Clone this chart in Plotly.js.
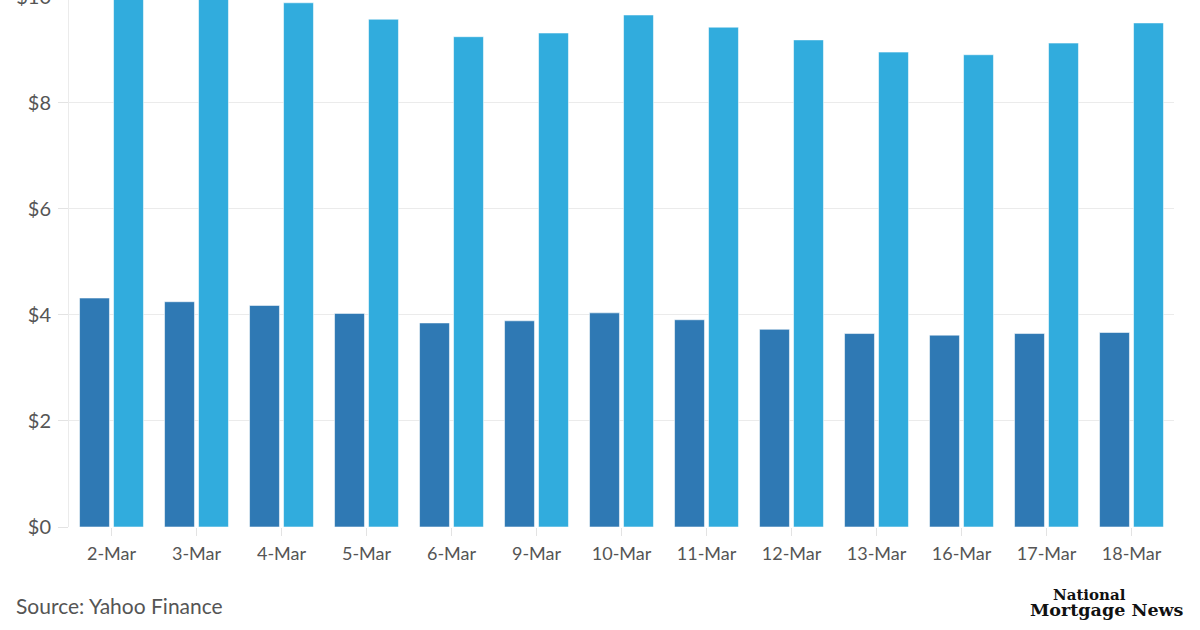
<!DOCTYPE html>
<html>
<head>
<meta charset="utf-8">
<script src="https://cdn.plot.ly/plotly-3.0.1.min.js"></script>
<style>
html,body{margin:0;padding:0;width:1200px;height:630px;overflow:hidden;background:#fff;}
#chart{position:absolute;left:0;top:-40px;width:1200px;height:670px;}
</style>
</head>
<body>
<div id="chart"></div>
<script>
const categories = ["2-Mar","3-Mar","4-Mar","5-Mar","6-Mar","9-Mar","10-Mar","11-Mar","12-Mar","13-Mar","16-Mar","17-Mar","18-Mar"];
const seriesDark = [4.32,4.25,4.18,4.03,3.85,3.89,4.04,3.91,3.73,3.65,3.62,3.65,3.67];
const seriesLight = [10.2,10.15,9.89,9.58,9.25,9.32,9.66,9.43,9.19,8.96,8.91,9.13,9.51];
const yTicks = [0,2,4,6,8,10];
const yTickLabels = ["$0","$2","$4","$6","$8","$10"];

const barLine = {color:'rgba(255,255,255,0.55)', width:1};
const traces = [
  {type:'bar', x:categories, y:seriesDark, marker:{color:'#2f79b4', line:barLine}, hoverinfo:'none'},
  {type:'bar', x:categories, y:seriesLight, marker:{color:'#31acdd', line:barLine}, hoverinfo:'none'}
];

const font = 'Lato, "Open Sans", sans-serif';
const layout = {
  width:1200, height:670,
  margin:{l:69, r:26, t:20, b:103},
  paper_bgcolor:'#fff', plot_bgcolor:'#fff',
  showlegend:false,
  barmode:'group', bargap:0.2, bargroupgap:0.12,
  font:{family:font, color:'#555', size:18},
  xaxis:{
    type:'category', showgrid:false, zeroline:false, showline:false,
    ticks:'outside', ticklen:8, tickcolor:'#e3e3e3', tickwidth:1,
    tickfont:{family:font, size:18, color:'#555'}, ticklabelstandoff:2
  },
  yaxis:{
    range:[0, 10.32], tickmode:'array', tickvals:yTicks, ticktext:yTickLabels,
    showgrid:true, gridcolor:'#ebebeb', gridwidth:1, zeroline:false,
    showline:true, linecolor:'#ebebeb', linewidth:1,
    ticks:'outside', ticklen:10, tickcolor:'#e3e3e3',
    tickfont:{family:font, size:20, color:'#555'}, ticklabelstandoff:3
  },
  annotations:[
    {xref:'paper', yref:'paper', x:(14-69)/1105, y:-(603+40-567)/530, xanchor:'left', yanchor:'middle',
     text:'Source: Yahoo Finance', showarrow:false, font:{family:font, size:21, color:'#555'}},
    {xref:'paper', yref:'paper', x:(1089-69)/1105, y:-(593+40-567)/530, xanchor:'center', yanchor:'middle',
     text:'<b>National</b>', showarrow:false, font:{family:'"DejaVu Serif", serif', size:15, color:'#111'}},
    {xref:'paper', yref:'paper', x:(1107-69)/1105, y:-(607+40-567)/530, xanchor:'center', yanchor:'middle',
     text:'<b>Mortgage News</b>', showarrow:false, font:{family:'"DejaVu Serif", serif', size:17.5, color:'#111'}}
  ]
};

Plotly.newPlot('chart', traces, layout, {staticPlot:true, displayModeBar:false});
</script>
</body>
</html>
